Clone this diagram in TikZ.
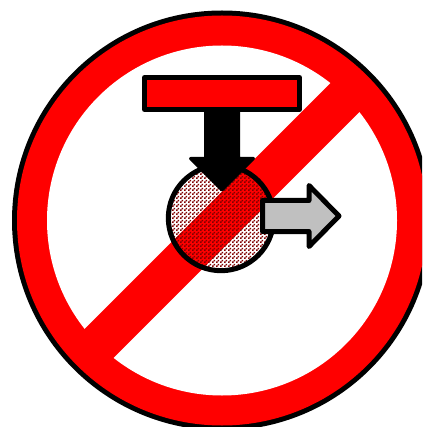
\documentclass[tikz,border=0pt]{standalone}
\usepackage{xcolor}
\usepackage{tikz}
\usetikzlibrary{patterns}
\definecolor{signred}{RGB}{255,0,0}
\definecolor{hatchred}{RGB}{128,0,0}
\definecolor{arrowgray}{RGB}{192,192,192}
\pgfdeclarepatternformonly{wheelhatch}{\pgfpointorigin}{\pgfpoint{4pt}{4pt}}{\pgfpoint{4pt}{4pt}}{
    \pgfpathrectangle{\pgfpointorigin}{\pgfpoint{2pt}{2pt}}
    \pgfpathrectangle{\pgfpoint{2pt}{2pt}}{\pgfpoint{2pt}{2pt}}
    \pgfusepath{fill}
}
\begin{document}
\begin{tikzpicture}[x=1pt, y=-1pt, line join=round,
    outline/.style={draw=black, line width=5pt}]
    \useasboundingbox (0, 0) rectangle (422, 427);
    \clip (0, 0) rectangle (422, 427);

    % sign
    \fill[black] (222, 220.5) circle[radius=210];
    \fill[signred] (222, 220.5) circle[radius=205];
    \fill[white] (222, 220.5) circle[radius=175];
    \fill[signred, rotate around={45:(222, 220.5)}] (40, 200) rectangle (404, 241);

    % wheel
    \fill[pattern=wheelhatch, pattern color=hatchred] (221, 218) circle[radius=52.7];
    \draw[outline] (221, 218) circle[radius=52.7];

    % bar
    \draw[outline, fill=signred] (144.5, 77.5) rectangle (299.5, 109.5);

    % down arrow
    \draw[black, fill=black, line width=3pt] (205.5, 110) -- (238.5, 110) -- (238.5, 158.5)
        -- (253.5, 158.5) -- (222, 190) -- (190.5, 158.5) -- (205.5, 158.5) -- cycle;

    % right arrow
    \draw[outline, fill=arrowgray] (262.5, 200.5) -- (309, 200.5) -- (309, 185.5)
        -- (339, 216) -- (309, 246.5) -- (309, 231.5) -- (262.5, 231.5) -- cycle;
\end{tikzpicture}
\end{document}
